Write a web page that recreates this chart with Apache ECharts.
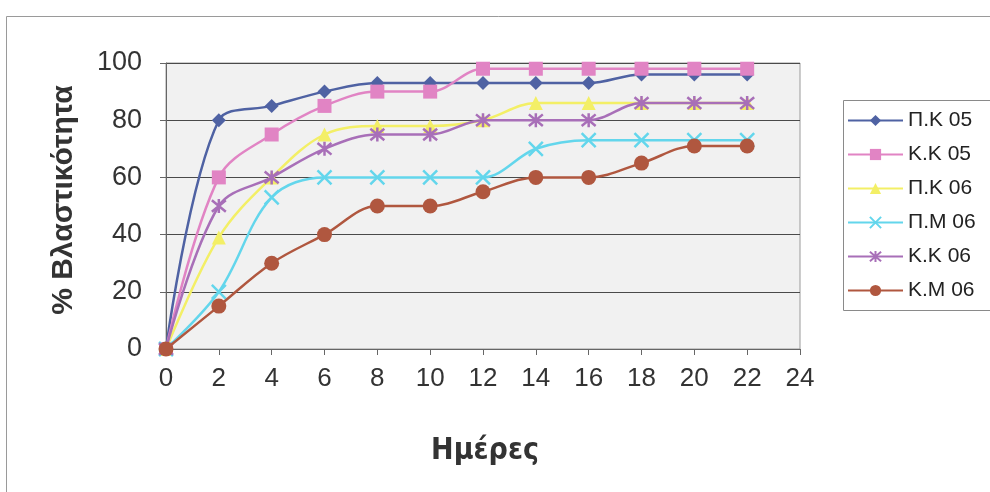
<!DOCTYPE html>
<html>
<head>
<meta charset="utf-8">
<script src="https://cdn.jsdelivr.net/npm/echarts@6/dist/echarts.min.js"></script>
<style>
html,body{margin:0;padding:0;background:#fff;}
#chart{width:990px;height:492px;}
</style>
</head>
<body>
<div id="chart"></div>
<script>
// Days (x values)
const days = [0, 2, 4, 6, 8, 10, 12, 14, 16, 18, 20, 22];
const xTicks = [0, 2, 4, 6, 8, 10, 12, 14, 16, 18, 20, 22, 24];
const yTicks = [0, 20, 40, 60, 80, 100];
const xTitle = 'Ημέρες';
const yTitle = '% Βλαστικότητα';

const seriesNames = ['Π.Κ 05', 'Κ.Κ 05', 'Π.Κ 06', 'Π.Μ 06', 'Κ.Κ 06', 'Κ.Μ 06'];
const pk05 = [0, 80, 85, 90, 93, 93, 93, 93, 93, 96, 96, 96];
const kk05 = [0, 60, 75, 85, 90, 90, 98, 98, 98, 98, 98, 98];
const pk06 = [0, 39, 60, 75, 78, 78, 80, 86, 86, 86, 86, 86];
const pm06 = [0, 20, 53, 60, 60, 60, 60, 70, 73, 73, 73, 73];
const kk06 = [0, 50, 60, 70, 75, 75, 80, 80, 80, 86, 86, 86];
const km06 = [0, 15, 30, 40, 50, 50, 55, 60, 60, 65, 71, 71];

const values = [pk05, kk05, pk06, pm06, kk06, km06];
const colors = ['#4f62a3', '#e184c4', '#f3ef66', '#63d6ec', '#a86fb8', '#b0573f'];
const symbols = [
  'diamond',
  'rect',
  'triangle',
  'path://M0,0L10,10M10,0L0,10',
  'path://M0,0L10,10M10,0L0,10M5,-1L5,11',
  'circle'
];
const sizes = [14, 14, 14, 14, 14, 15];

const chart = echarts.init(document.getElementById('chart'));

const series = seriesNames.map((name, i) => {
  const isPath = symbols[i].startsWith('path://');
  return {
    name: name,
    type: 'line',
    data: days.map((d, j) => [d, values[i][j]]),
    smooth: 0.35,
    symbol: symbols[i],
    symbolSize: sizes[i],
    showAllSymbol: true,
    lineStyle: { color: colors[i], width: 2.5 },
    itemStyle: isPath
      ? { color: colors[i], borderColor: colors[i], borderWidth: 2.5 }
      : { color: colors[i], borderColor: colors[i], borderWidth: 0 },
    emphasis: { disabled: true },
    z: 3 + i
  };
});

chart.setOption({
  animation: false,
  backgroundColor: '#ffffff',
  textStyle: { fontFamily: 'Liberation Sans, Arial, sans-serif' },
  grid: { left: 166, top: 63, width: 634, height: 286, show: true,
          backgroundColor: '#f1f1f1', borderColor: '#9a9a9a', borderWidth: 1 },
  xAxis: {
    type: 'value', min: xTicks[0], max: xTicks[xTicks.length - 1], interval: 2,
    axisLine: { show: true, lineStyle: { color: '#666', width: 1 } },
    axisTick: { show: true, inside: false, length: 6, lineStyle: { color: '#666' } },
    axisLabel: { fontSize: 26, color: '#333', margin: 17 },
    splitLine: { show: false }
  },
  yAxis: {
    type: 'value', min: yTicks[0], max: yTicks[yTicks.length - 1], interval: 20,
    axisLine: { show: true, lineStyle: { color: '#666', width: 1 } },
    axisTick: { show: true, inside: false, length: 6, lineStyle: { color: '#666' } },
    axisLabel: { fontSize: 27, color: '#333', margin: 24 },
    splitLine: { show: true, lineStyle: { color: '#4a4a4a', width: 1 } }
  },
  legend: {
    orient: 'vertical', left: 842, top: 105,
    itemWidth: 55, itemHeight: 14, itemGap: 13,
    textStyle: { fontSize: 21, color: '#222' },
    data: seriesNames
  },
  graphic: [
    { type: 'rect', left: 4, top: 14, shape: { width: 1000, height: 500 },
      style: { fill: 'none', stroke: '#9a9a9a', lineWidth: 1 }, silent: true, z: -1 },
    { type: 'rect', left: 843, top: 100, shape: { width: 160, height: 210 },
      style: { fill: '#ffffff', stroke: '#8a8a8a', lineWidth: 1 }, silent: true, z: -1 },
    { type: 'text', x: 64, y: 200, rotation: Math.PI / 2, silent: true,
      style: { text: yTitle, fontSize: 30, fontWeight: 'bold', fill: '#333',
               fontFamily: 'Liberation Sans, Arial, sans-serif',
               align: 'center', verticalAlign: 'middle' } },
    { type: 'text', x: 485, y: 451, silent: true,
      style: { text: xTitle, fontSize: 30, fontWeight: 'bold', fill: '#333',
               fontFamily: 'DejaVu Sans Condensed, DejaVu Sans, sans-serif',
               align: 'center', verticalAlign: 'middle' } }
  ],
  series: series
});
</script>
</body>
</html>
